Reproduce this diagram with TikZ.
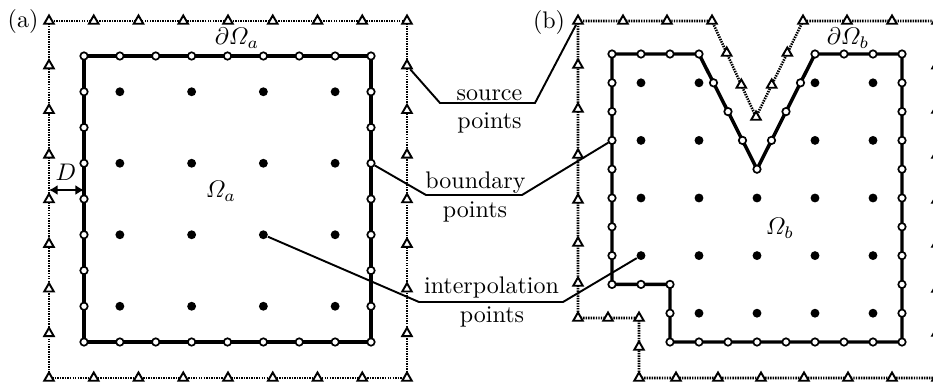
\documentclass[tikz,border=0pt]{standalone}
\usepackage{amsmath}
\usetikzlibrary{shapes.geometric,arrows.meta}
\begin{document}
\begin{tikzpicture}[x=0.41667pt,y=-0.41667pt,
  srcpt/.style={regular polygon,regular polygon sides=3,draw,fill=white,line width=0.8pt,minimum size=4.6pt,inner sep=0pt},
  bndpt/.style={circle,draw,fill=white,line width=0.7pt,minimum size=3.1pt,inner sep=0pt},
  itppt/.style={circle,fill=black,minimum size=3.7pt,inner sep=0pt},
  srcline/.style={line width=1.1pt,dash pattern=on 0.6pt off 0.45pt},
  bndline/.style={line width=1.45pt,line join=miter},
  leader/.style={line width=0.8pt},
  lbl/.style={anchor=base,inner sep=0pt},
  mlbl/.style={inner sep=0pt},
]
\clip (0,0) rectangle (933,385);

% ---------- source lines ----------
\begin{scope}[shift={(20.417pt,-8.75pt)},x=18.646pt,y=-18.594pt]
  \draw[srcline] (0,0) rectangle (8,8);
\end{scope}
\draw[srcline] (578,21) -- (712,21) -- (756,117) -- (803,21) -- (937,21) -- (937,378)
  -- (639,378) -- (639,318) -- (578,318) -- cycle;

% ---------- source points (a) ----------
\begin{scope}[shift={(20.417pt,-8.75pt)},x=18.646pt,y=-18.594pt]
  \foreach \k in {0,...,8}{
    \node[srcpt] (sa-t-\k) at (\k,0) {};
    \node[srcpt] (sa-b-\k) at (\k,8) {};
  }
  \foreach \k in {1,...,7}{
    \node[srcpt] (sa-l-\k) at (0,\k) {};
    \node[srcpt] (sa-r-\k) at (8,\k) {};
  }
\end{scope}

% ---------- source points (b) ----------
\node[srcpt] (sb-c) at (578,21) {};
\foreach \x/\y [count=\n] in {623/21,667/21,712/21,726.7/53,741.3/85,756/117,771.7/85,787.3/53,803/21,847/21,892/21,937/21,
  578/65,578/109,578/155,578/200,578/243,578/283,578/318,608/318,639/318,639/347,
  639/378,676/378,718/378,761/378,804/378,848/378,892/378,937/378,
  937/65.6,937/110,937/155,937/200,937/244,937/289,937/333}{
  \node[srcpt] (sb-\n) at (\x,\y) {};
}

% ---------- boundary (a) ----------
\begin{scope}[shift={(35pt,-23.333pt)},x=14.948pt,y=-14.896pt]
  \draw[bndline] (0,0) rectangle (8,8);
  \foreach \i in {0,...,8}{
    \node[bndpt] (ba-t-\i) at (\i,0) {};
    \node[bndpt] (ba-b-\i) at (\i,8) {};
  }
  \foreach \j in {1,...,7}{
    \node[bndpt] (ba-l-\j) at (0,\j) {};
    \node[bndpt] (ba-r-\j) at (8,\j) {};
  }
  \foreach \i in {1,3,5,7}{
    \foreach \j in {1,3,5,7}{
      \node[itppt] (ia-\i-\j) at (\i,\j) {};
    }
  }
\end{scope}

% ---------- boundary (b) ----------
\begin{scope}[shift={(255pt,-22.5pt)},x=12.0833pt,y=-12pt]
  \draw[bndline] (0,0) -- (3,0) -- (5,4) -- (7,0) -- (10,0) -- (10,10) -- (2,10) -- (2,8) -- (0,8) -- cycle;
  \foreach \i in {0,1,2,3,7,8,9,10}{\node[bndpt] (bb-t-\i) at (\i,0) {};}
  \foreach \x/\y [count=\n] in {3.5/1,4/2,4.5/3,5/4,5.5/3,6/2,6.5/1}{\node[bndpt] (bb-v-\n) at (\x,\y) {};}
  \foreach \j in {1,...,10}{\node[bndpt] (bb-r-\j) at (10,\j) {};}
  \foreach \i in {2,...,9}{\node[bndpt] (bb-b-\i) at (\i,10) {};}
  \node[bndpt] (bb-s-1) at (2,9) {};
  \node[bndpt] (bb-s-2) at (2,8) {};
  \node[bndpt] (bb-s-3) at (1,8) {};
  \foreach \j in {1,...,8}{\node[bndpt] (bb-l-\j) at (0,\j) {};}
  \foreach \i/\j in {1/1,3/1,7/1,9/1,1/3,3/3,7/3,9/3,1/5,3/5,5/5,7/5,9/5,1/7,3/7,5/7,7/7,9/7,3/9,5/9,7/9,9/9}{
    \node[itppt] (ib-\i-\j) at (\i,\j) {};
  }
\end{scope}

% ---------- D arrow ----------
\coordinate (d1) at (49,190);
\coordinate (d2) at (84,190);
\draw[line width=1.2pt,{Latex[length=3.6pt,width=4.2pt]}-{Latex[length=3.6pt,width=4.2pt]}] (d1) -- (d2);
\node[mlbl] (lD) at (66,172) {$D$};

% ---------- leaders ----------
\coordinate (s1) at (440,103);
\coordinate (s2) at (535,103);
\draw[leader] (sa-r-1) -- (s1) -- (s2) -- (sb-c);
\coordinate (b1) at (426,195);
\coordinate (b2) at (522,195);
\draw[leader] (ba-r-3) -- (b1) -- (b2) -- (bb-l-3);
\coordinate (p1) at (419,302);
\coordinate (p2) at (563,302);
\draw[leader] (ia-5-5) -- (p1) -- (p2) -- (ib-1-7);

% ---------- labels ----------
\node[lbl] (t-s1) at (489.5,100) {source};
\node[lbl] (t-s2) at (489.5,128) {points};
\node[lbl] (t-b1) at (475.5,188) {boundary};
\node[lbl] (t-b2) at (475,217) {points};
\node[lbl] (t-i1) at (491.5,293) {interpolation};
\node[lbl] (t-i2) at (492,322) {points};
\node[mlbl] (la) at (23,21) {(a)};
\node[mlbl] (lb) at (549,22) {(b)};
\node[mlbl] (lda) at (237,38) {$\partial\varOmega_a$};
\node[mlbl] (loa) at (221,191) {$\varOmega_a$};
\node[mlbl] (ldb) at (848,38) {$\partial\varOmega_b$};
\node[mlbl] (lob) at (780,228) {$\varOmega_b$};
\end{tikzpicture}
\end{document}
